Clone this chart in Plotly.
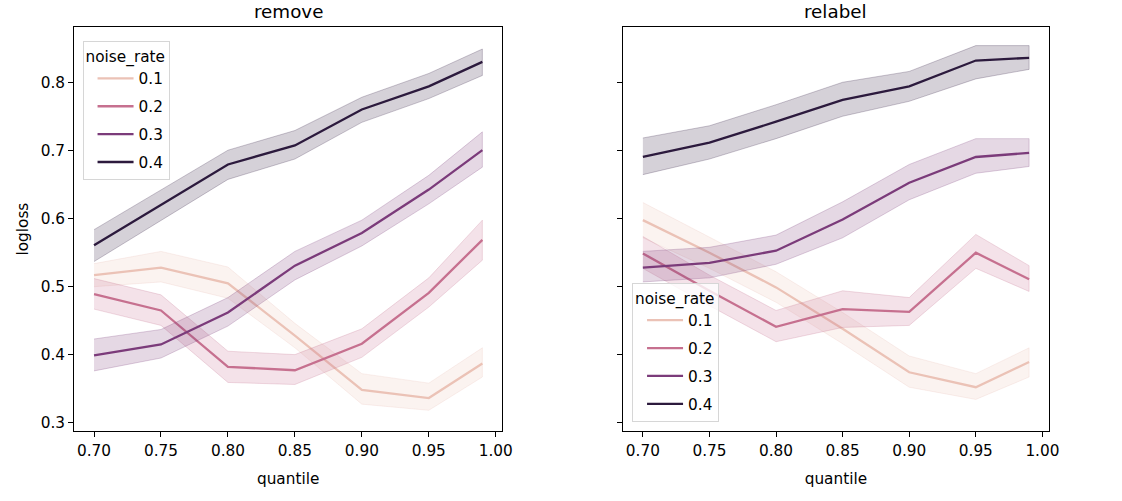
import plotly.graph_objects as go

quantile = [0.70, 0.75, 0.80, 0.85, 0.90, 0.95, 0.99]
noise_rates = ["0.1", "0.2", "0.3", "0.4"]
colors = ["#ebc2b6", "#c6708f", "#7b3b7a", "#2c1a3d"]
fills = ["rgba(235,194,182,0.2)", "rgba(198,112,143,0.2)", "rgba(123,59,122,0.2)", "rgba(44,26,61,0.2)"]

# remove panel
remove_mean = {
    "0.1": [0.517, 0.528, 0.505, 0.428, 0.348, 0.336, 0.387],
    "0.2": [0.489, 0.465, 0.382, 0.377, 0.416, 0.491, 0.569],
    "0.3": [0.399, 0.415, 0.462, 0.531, 0.579, 0.643, 0.701],
    "0.4": [0.561, 0.620, 0.680, 0.708, 0.761, 0.795, 0.831],
}
remove_lo = {
    "0.1": [0.500, 0.507, 0.483, 0.410, 0.327, 0.318, 0.367],
    "0.2": [0.467, 0.443, 0.359, 0.356, 0.396, 0.470, 0.539],
    "0.3": [0.376, 0.395, 0.442, 0.510, 0.560, 0.622, 0.676],
    "0.4": [0.537, 0.598, 0.658, 0.688, 0.742, 0.777, 0.811],
}
remove_hi = {
    "0.1": [0.534, 0.552, 0.529, 0.446, 0.372, 0.358, 0.410],
    "0.2": [0.512, 0.488, 0.405, 0.400, 0.438, 0.513, 0.598],
    "0.3": [0.423, 0.437, 0.484, 0.552, 0.598, 0.664, 0.728],
    "0.4": [0.584, 0.642, 0.701, 0.730, 0.779, 0.814, 0.850],
}

# relabel panel
relabel_mean = {
    "0.1": [0.598, 0.550, 0.499, 0.438, 0.374, 0.352, 0.389],
    "0.2": [0.549, 0.494, 0.441, 0.467, 0.463, 0.550, 0.511],
    "0.3": [0.528, 0.535, 0.553, 0.599, 0.653, 0.691, 0.697],
    "0.4": [0.691, 0.712, 0.743, 0.775, 0.795, 0.833, 0.837],
}
relabel_lo = {
    "0.1": [0.572, 0.527, 0.477, 0.416, 0.352, 0.334, 0.367],
    "0.2": [0.527, 0.472, 0.419, 0.440, 0.443, 0.527, 0.493],
    "0.3": [0.507, 0.513, 0.533, 0.572, 0.628, 0.667, 0.677],
    "0.4": [0.665, 0.688, 0.718, 0.751, 0.773, 0.806, 0.820],
}
relabel_hi = {
    "0.1": [0.624, 0.573, 0.522, 0.462, 0.398, 0.372, 0.410],
    "0.2": [0.574, 0.517, 0.465, 0.494, 0.484, 0.577, 0.531],
    "0.3": [0.552, 0.558, 0.576, 0.625, 0.680, 0.718, 0.718],
    "0.4": [0.719, 0.737, 0.768, 0.801, 0.817, 0.855, 0.855],
}

x_ticks = [0.70, 0.75, 0.80, 0.85, 0.90, 0.95, 1.00]
y_ticks = [0.3, 0.4, 0.5, 0.6, 0.7, 0.8]

FONT = "DejaVu Sans"
FS = 15.3
fig = go.Figure()

panels = [
    ("x", "y", remove_mean, remove_lo, remove_hi, "legend"),
    ("x2", "y2", relabel_mean, relabel_lo, relabel_hi, "legend2"),
]
for xa, ya, mean, lo, hi, leg in panels:
    for i, nr in enumerate(noise_rates):
        fig.add_trace(go.Scatter(
            x=quantile + quantile[::-1],
            y=hi[nr] + lo[nr][::-1],
            fill="toself", fillcolor=fills[i],
            line=dict(width=0.8, color=fills[i].replace("0.2)", "0.3)")),
            mode="lines", hoverinfo="skip", showlegend=False,
            xaxis=xa, yaxis=ya,
        ))
        fig.add_trace(go.Scatter(
            x=quantile, y=mean[nr], mode="lines",
            line=dict(color=colors[i], width=2.3),
            name=nr, legendgroup=leg + nr, legend=leg,
            xaxis=xa, yaxis=ya,
        ))

axis_common = dict(
    showline=True, linecolor="black", linewidth=1.2, mirror=True,
    ticks="outside", ticklen=5, tickwidth=1.2, tickcolor="black",
    showgrid=False, zeroline=False,
    tickfont=dict(family=FONT, size=FS, color="black"),
)
legend_common = dict(
    xanchor="left", bgcolor="rgba(255,255,255,0.8)", bordercolor="#d6d6d6", borderwidth=1,
    title=dict(text="noise_rate", font=dict(size=FS)),
    font=dict(size=FS), tracegroupgap=5, itemwidth=36, indentation=9,
)
fig.update_layout(
    width=1122, height=501,
    margin=dict(l=0, r=0, t=0, b=0),
    plot_bgcolor="white", paper_bgcolor="white",
    font=dict(family=FONT, size=FS, color="black"),
    xaxis=dict(domain=[0.0668, 0.4519], range=[0.6852, 1.0047], anchor="y",
               tickvals=x_ticks, tickformat=".2f",
               title=dict(text="quantile", font=dict(size=FS), standoff=14), **axis_common),
    xaxis2=dict(domain=[0.5609, 0.9439], range=[0.6852, 1.0047], anchor="y2",
                tickvals=x_ticks, tickformat=".2f",
                title=dict(text="quantile", font=dict(size=FS), standoff=14), **axis_common),
    yaxis=dict(domain=[0.1377, 0.946], range=[0.2873, 0.8824], anchor="x",
               tickvals=y_ticks, tickformat=".1f",
               title=dict(text="logloss", font=dict(size=FS), standoff=8), **axis_common),
    yaxis2=dict(domain=[0.1377, 0.946], range=[0.2873, 0.8824], matches="y", anchor="x2",
                tickvals=y_ticks, showticklabels=False, **axis_common),
    legend=dict(x=0.0743, y=0.918, yanchor="top", **legend_common),
    legend2=dict(x=0.5689, y=0.1563, yanchor="bottom", **legend_common),
    annotations=[
        dict(text="remove", x=0.2594, y=0.977, xref="paper", yref="paper",
             xanchor="center", yanchor="middle", showarrow=False, font=dict(size=18.3)),
        dict(text="relabel", x=0.7524, y=0.977, xref="paper", yref="paper",
             xanchor="center", yanchor="middle", showarrow=False, font=dict(size=18.3)),
    ],
)

fig.write_html("out.html", config={"displayModeBar": False},
               post_script="document.body.style.margin='0';document.body.style.overflow='hidden';")
